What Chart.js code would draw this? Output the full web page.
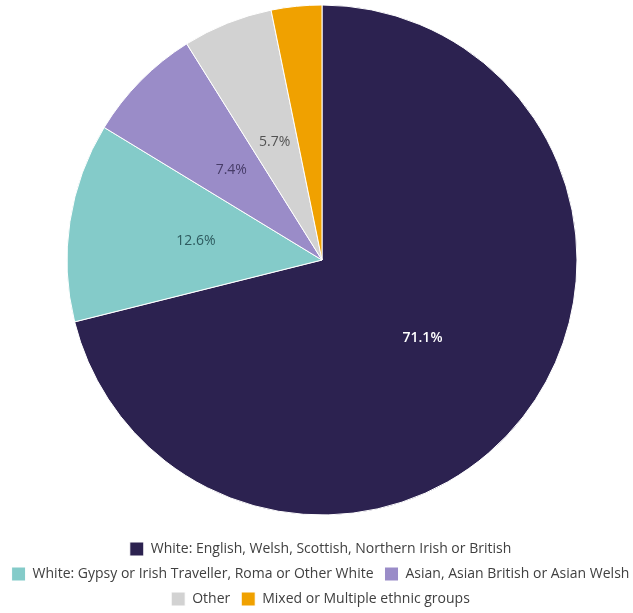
<!DOCTYPE html>
<html>
<head>
<meta charset="utf-8">
<script src="https://cdn.jsdelivr.net/npm/chart.js@4/dist/chart.umd.min.js"></script>
<style>
  html, body { margin: 0; padding: 0; background: #fff; }
  #wrap { width: 633px; height: 613px; }
</style>
</head>
<body>
<div id="wrap"><canvas id="pie" width="633" height="613"></canvas></div>
<script>
const groups = [
  'White: English, Welsh, Scottish, Northern Irish or British',
  'White: Gypsy or Irish Traveller, Roma or Other White',
  'Asian, Asian British or Asian Welsh',
  'Other',
  'Mixed or Multiple ethnic groups',
]
const shares = [71.1, 12.6, 7.4, 5.7, 3.2]
const colors = ['#2c2250', '#84cbc9', '#9a8cc8', '#d2d2d2', '#f0a100']
const labelColors = ['#ffffff', 'rgba(30,70,75,0.85)', 'rgba(50,40,80,0.8)', 'rgba(60,60,60,0.85)', null]

// pie sits a bit right of and above the plain layout centre
const nudgePie = {
  id: 'nudgePie',
  afterLayout(chart) {
    const a = chart.chartArea
    const dx = 322 - (a.left + a.right) / 2
    const dy = 260 - (a.top + a.bottom) / 2
    a.left += dx
    a.right += dx
    a.top += dy
    a.bottom += dy
  },
}

// percent labels in the middle of each slice
const sliceLabels = {
  id: 'sliceLabels',
  afterDatasetsDraw(chart) {
    const { ctx } = chart
    const meta = chart.getDatasetMeta(0)
    meta.data.forEach((arc, i) => {
      if (shares[i] < 5) return
      const { x, y } = arc.tooltipPosition()
      ctx.save()
      ctx.fillStyle = labelColors[i]
      ctx.font = (i === 0 ? '600 ' : '') + '14px "Open Sans"'
      ctx.textAlign = 'center'
      ctx.textBaseline = 'middle'
      ctx.fillText(shares[i].toFixed(1) + '%', x, y)
      ctx.restore()
    })
  },
}

new Chart(document.getElementById('pie'), {
  type: 'pie',
  data: {
    labels: groups,
    datasets: [
      {
        data: shares,
        backgroundColor: colors,
        borderColor: '#ffffff',
        borderWidth: 1,
        radius: 255,
      },
    ],
  },
  options: {
    responsive: false,
    animation: false,
    // legend gets a little extra room so the second row stays on one line
    layout: { padding: { top: 0, bottom: -3, left: 0, right: -8 } },
    plugins: {
      legend: {
        position: 'bottom',
        labels: {
          boxWidth: 14,
          boxHeight: 14,
          padding: 11,
          color: '#404040',
          font: { family: 'Open Sans', size: 14 },
        },
      },
      tooltip: { enabled: false },
    },
  },
  plugins: [nudgePie, sliceLabels],
})
</script>
</body>
</html>
